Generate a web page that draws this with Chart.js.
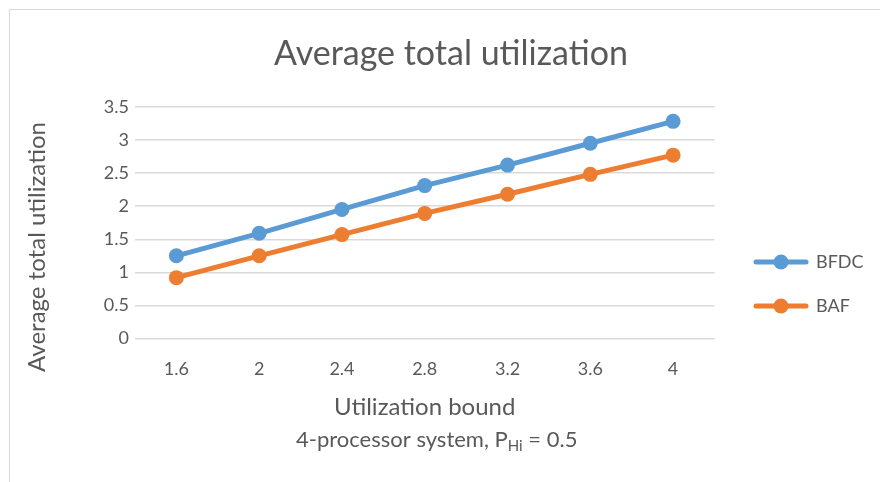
<!DOCTYPE html>
<html>
<head>
<meta charset="utf-8">
<script src="https://cdn.jsdelivr.net/npm/chart.js@4.4.1/dist/chart.umd.min.js"></script>
<style>
  html, body { margin: 0; padding: 0; background: #fff; }
  #wrap { position: relative; width: 880px; height: 482px; overflow: hidden; }
  #frame { position: absolute; left: 9px; top: 9px; width: 900px; height: 500px; border: 1px solid #d9d9d9; box-sizing: border-box; }
  #chart { position: absolute; left: 0; top: 0; }
</style>
</head>
<body>
<div id="wrap">
  <div id="frame"></div>
  <canvas id="chart" width="880" height="482"></canvas>
</div>
<script>
// Data
const bounds = ['1.6', '2', '2.4', '2.8', '3.2', '3.6', '4'];
const bfdc = [1.25, 1.59, 1.95, 2.31, 2.62, 2.95, 3.28];
const baf = [0.92, 1.25, 1.57, 1.89, 2.18, 2.48, 2.77];
const yTicks = [0, 0.5, 1, 1.5, 2, 2.5, 3, 3.5];

const BLUE = '#5B9BD5';
const ORANGE = '#ED7D31';
const TEXT = '#595959';
const GRID = '#d9d9d9';
const FONT = 'Lato, "Open Sans", sans-serif';

// legend glyph: line with a dot in the middle
function legendGlyph(color) {
    const c = document.createElement('canvas');
    c.width = 56; c.height = 18;
    const g = c.getContext('2d');
    g.strokeStyle = color;
    g.lineWidth = 5;
    g.lineCap = 'round';
    g.beginPath();
    g.moveTo(3, 9); g.lineTo(53, 9);
    g.stroke();
    g.fillStyle = color;
    g.beginPath();
    g.arc(28, 9, 7.5, 0, Math.PI * 2);
    g.fill();
    return c;
}

// move the legend block down/right, where Excel puts it
const legendShift = {
    id: 'legendShift',
    afterLayout(chart) {
        const lg = chart.legend;
        const dy = 284 - (lg.top + lg.bottom) / 2;
        const dx = 729 - lg.left;
        lg.top += dy; lg.bottom += dy;
        lg.left += dx; lg.right += dx;
    }
};

// y axis title (Excel sets it a bit below the plot middle)
const yTitlePlugin = {
    id: 'yTitle',
    afterDraw(chart) {
        const ctx = chart.ctx;
        ctx.save();
        ctx.translate(37, 247);
        ctx.rotate(-Math.PI / 2);
        ctx.fillStyle = TEXT;
        ctx.font = '24px ' + FONT;
        ctx.textAlign = 'center';
        ctx.textBaseline = 'middle';
        ctx.fillText('Average total utilization', 0, 0);
        ctx.restore();
    }
};

// second line under the x-axis title, with subscript "Hi"
const subtitlePlugin = {
    id: 'subtitleSub',
    afterDraw(chart) {
        const ctx = chart.ctx;
        const x = chart.scales.x;
        const cx = (x.left + x.right) / 2 + 12;
        const y = 440;
        const parts = [
            { t: '4-processor system, P', size: 22, dy: 0 },
            { t: 'Hi', size: 15, dy: 6 },
            { t: ' = 0.5', size: 22, dy: 0 }
        ];
        ctx.save();
        ctx.fillStyle = TEXT;
        ctx.textBaseline = 'middle';
        let total = 0;
        parts.forEach(p => {
            ctx.font = p.size + 'px ' + FONT;
            p.w = ctx.measureText(p.t).width;
            total += p.w;
        });
        let px = cx - total / 2;
        parts.forEach(p => {
            ctx.font = p.size + 'px ' + FONT;
            ctx.fillText(p.t, px, y + p.dy);
            px += p.w;
        });
        ctx.restore();
    }
};

new Chart(document.getElementById('chart'), {
    type: 'line',
    data: {
        labels: bounds,
        datasets: [{
            label: 'BFDC',
            data: bfdc,
            borderColor: BLUE,
            backgroundColor: BLUE,
            borderWidth: 5,
            pointRadius: 7.5,
            pointHoverRadius: 7.5,
            pointBorderWidth: 0,
            tension: 0
        }, {
            label: 'BAF',
            data: baf,
            borderColor: ORANGE,
            backgroundColor: ORANGE,
            borderWidth: 5,
            pointRadius: 7.5,
            pointHoverRadius: 7.5,
            pointBorderWidth: 0,
            tension: 0
        }]
    },
    options: {
        responsive: false,
        animation: false,
        layout: { padding: { left: 43, right: 21, top: 0, bottom: 60 } },
        elements: { point: { pointStyle: 'circle' } },
        scales: {
            y: {
                min: 0,
                max: 3.5,
                afterBuildTicks: s => { s.ticks = yTicks.map(v => ({ value: v })); },
                afterFit: s => { s.width = 92; },
                grid: { color: GRID, lineWidth: 1.5, drawTicks: false },
                border: { display: false },
                ticks: { color: TEXT, font: { family: FONT, size: 18 }, padding: 6, callback: v => String(v) }
            },
            x: {
                offset: true,
                grid: { display: false, drawTicks: false },
                border: { display: false },
                ticks: { color: TEXT, font: { family: FONT, size: 18 }, padding: 20 },
                title: { display: true, text: 'Utilization bound', color: TEXT, font: { family: FONT, size: 24 }, padding: { top: -7, bottom: 0 } }
            }
        },
        plugins: {
            title: {
                display: true,
                text: 'Average total utilization',
                color: TEXT,
                font: { family: FONT, size: 34, weight: 'normal' },
                padding: { top: 34, bottom: 32 }
            },
            legend: {
                position: 'right',
                labels: {
                    color: TEXT,
                    font: { family: FONT, size: 18 },
                    usePointStyle: true,
                    pointStyleWidth: 52,
                    padding: 26,
                    generateLabels: chart => chart.data.datasets.map((d, i) => ({
                        text: d.label,
                        fillStyle: d.borderColor,
                        strokeStyle: d.borderColor,
                        lineWidth: 0,
                        pointStyle: legendGlyph(d.borderColor),
                        fontColor: TEXT,
                        datasetIndex: i
                    }))
                }
            },
            tooltip: { enabled: false }
        }
    },
    plugins: [legendShift, yTitlePlugin, subtitlePlugin]
});
</script>
</body>
</html>
